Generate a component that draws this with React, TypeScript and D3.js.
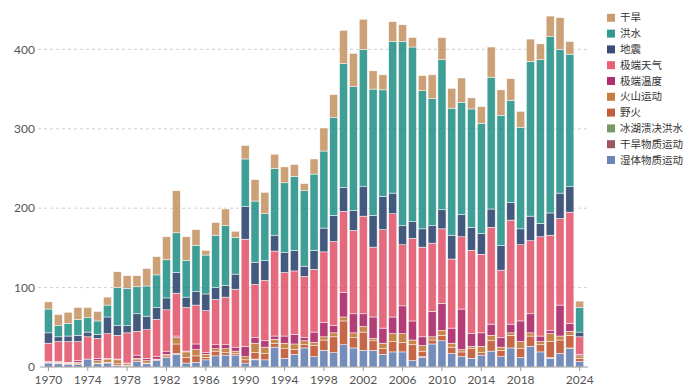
import React, { useEffect } from 'react';
import * as d3 from 'd3';

// 1970..2024
const years = d3.range(1970, 2025);

const wetMass = [5, 4, 3, 3, 10, 4, 5, 2, 1, 7, 4, 8, 12, 16, 5, 6, 9, 14, 15, 15, 5, 9, 9, 25, 11, 16, 24, 13, 21, 18, 28, 24, 21, 21, 16, 19, 19, 8, 12, 29, 33, 17, 13, 11, 15, 20, 13, 24, 12, 26, 19, 11, 17, 23, 7];
const dryMass = [0, 0, 0, 0, 0, 0, 0, 0, 0, 0, 0, 0, 0, 1, 0, 0, 0, 0, 0, 0, 0, 1, 0, 0, 0, 0, 0, 0, 0, 0, 0, 0, 0, 0, 0, 0, 0, 0, 1, 0, 0, 0, 0, 0, 0, 0, 0, 0, 0, 0, 0, 0, 0, 0, 0];
const glof = [0, 0, 0, 0, 0, 0, 0, 0, 0, 0, 0, 0, 0, 0, 0, 0, 0, 0, 0, 0, 0, 0, 0, 0, 0, 0, 0, 0, 0, 0, 0, 0, 0, 0, 0, 0, 0, 0, 0, 0, 0, 0, 0, 0, 0, 0, 0, 0, 0, 0, 0, 1, 0, 1, 0];
const wildfire = [0, 1, 1, 1, 0, 1, 1, 2, 1, 2, 1, 1, 2, 12, 7, 8, 3, 6, 3, 2, 4, 8, 8, 5, 12, 6, 4, 14, 13, 20, 30, 13, 23, 12, 7, 13, 12, 20, 7, 5, 7, 8, 6, 12, 3, 13, 8, 16, 11, 13, 9, 20, 17, 16, 4];
const volcanic = [1, 1, 1, 2, 0, 3, 4, 5, 2, 2, 3, 1, 2, 8, 7, 8, 4, 3, 5, 3, 4, 12, 8, 5, 7, 7, 5, 4, 4, 5, 5, 6, 7, 3, 7, 10, 11, 6, 7, 4, 6, 5, 3, 3, 8, 7, 4, 3, 9, 4, 4, 10, 5, 5, 3];
const extremeTemp = [1, 1, 1, 2, 0, 3, 1, 1, 1, 4, 3, 3, 4, 2, 1, 7, 2, 5, 5, 5, 13, 7, 8, 4, 9, 12, 4, 13, 18, 9, 31, 24, 16, 27, 19, 21, 35, 24, 11, 32, 34, 19, 51, 16, 17, 14, 12, 11, 26, 24, 7, 4, 39, 10, 2];
const storm = [23, 25, 26, 24, 28, 25, 31, 30, 38, 30, 36, 47, 52, 54, 55, 49, 53, 57, 60, 73, 135, 67, 76, 107, 80, 80, 77, 79, 89, 106, 102, 105, 123, 88, 124, 130, 77, 104, 113, 86, 94, 87, 91, 105, 99, 122, 85, 131, 96, 92, 125, 120, 109, 140, 22];
const earthquake = [13, 6, 7, 8, 6, 5, 21, 12, 9, 22, 17, 15, 15, 26, 13, 17, 21, 15, 15, 19, 41, 28, 25, 20, 25, 26, 13, 24, 30, 33, 30, 25, 37, 40, 42, 26, 24, 21, 23, 22, 24, 30, 28, 29, 26, 23, 31, 22, 20, 31, 17, 28, 32, 32, 6];
const flood = [30, 14, 16, 20, 18, 17, 15, 48, 47, 34, 38, 41, 48, 50, 46, 58, 49, 66, 75, 46, 60, 77, 59, 84, 88, 93, 95, 96, 97, 123, 156, 156, 173, 159, 134, 191, 232, 220, 174, 160, 189, 160, 141, 149, 139, 166, 164, 129, 128, 195, 206, 222, 181, 167, 31];
const drought = [9, 14, 14, 15, 13, 12, 10, 20, 16, 14, 22, 23, 29, 53, 30, 20, 6, 16, 21, 8, 17, 27, 27, 18, 20, 15, 9, 19, 29, 29, 42, 42, 38, 23, 19, 25, 21, 12, 19, 30, 28, 25, 31, 14, 21, 38, 32, 27, 20, 28, 20, 26, 40, 16, 8];

// stacking order, bottom first
const seriesNames = ['湿体物质运动', '干旱物质运动', '冰湖溃决洪水', '野火', '火山运动', '极端温度', '极端天气', '地震', '洪水', '干旱'];
const seriesValues = [wetMass, dryMass, glof, wildfire, volcanic, extremeTemp, storm, earthquake, flood, drought];
const seriesColors = ['#5270aa', '#8c3a42', '#5e8a48', '#b8421a', '#b8661e', '#a00c55', '#e0455c', '#15305e', '#0f877c', '#c08a56'];

const tickYears = [1970, 1974, 1978, 1982, 1986, 1990, 1994, 1998, 2002, 2006, 2010, 2014, 2018, 2024];
const yTicks = [0, 100, 200, 300, 400];

const W = 700, H = 390;

export default function App() {
  useEffect(() => {
    document.body.style.margin = '0';
  }, []);

  const rows = years.map((yr, i) => {
    const r: Record<string, number> = { year: yr };
    seriesNames.forEach((n, k) => { r[n] = seriesValues[k][i]; });
    return r;
  });
  const stacked = d3.stack<Record<string, number>>().keys(seriesNames)(rows);

  const x = d3.scaleBand<number>().domain(years).range([42.6, 585.5]).padding(0.18);
  const y = d3.scaleLinear().domain([0, 450]).range([367, 9.7]);
  const color = d3.scaleOrdinal<string, string>().domain(seriesNames).range(seriesColors);

  const font = 'Lato, "Noto Sans", sans-serif';
  const cjk = '"Noto Sans CJK SC", "Noto Sans", sans-serif';

  return (
    <svg width={W} height={H} style={{ display: 'block' }}>
      {yTicks.filter(t => t > 0).map(t => (
        <line key={'g' + t} x1={38} x2={590} y1={y(t)} y2={y(t)} stroke="#d0d0d0" strokeDasharray="3,3" />
      ))}
      {yTicks.map(t => (
        <text key={'yl' + t} x={35} y={y(t)} dy="0.35em" textAnchor="end" fontFamily={font} fontSize={12} fill="#555">{t}</text>
      ))}
      {stacked.map(s => (
        <g key={s.key} fill={color(s.key)} fillOpacity={0.8}>
          {s.map((d, i) => (
            d[1] - d[0] > 0 ? (
              <rect key={i} x={x(years[i])} width={x.bandwidth()} y={y(d[1])} height={y(d[0]) - y(d[1])} stroke="#fff" strokeWidth={0.5} />
            ) : null
          ))}
        </g>
      ))}
      <line x1={40} x2={588} y1={y(0)} y2={y(0)} stroke="#9a9a9a" />
      {tickYears.map(t => {
        const cx = (x(t) as number) + x.bandwidth() / 2;
        return (
          <g key={'xt' + t}>
            <line x1={cx} x2={cx} y1={y(0)} y2={y(0) + 4} stroke="#9a9a9a" />
            <text x={cx} y={384} textAnchor="middle" fontFamily={font} fontSize={12} fill="#555">{t}</text>
          </g>
        );
      })}
      {seriesNames.slice().reverse().map((n, i) => {
        const cy = 17.8 + i * 15.8;
        return (
          <g key={'lg' + n}>
            <rect x={607} y={cy - 4} width={8} height={8} fill={color(n)} fillOpacity={0.85} />
            <text x={620} y={cy} dy="0.35em" fontFamily={cjk} fontSize={10.5} fill="#333">{n}</text>
          </g>
        );
      })}
    </svg>
  );
}
